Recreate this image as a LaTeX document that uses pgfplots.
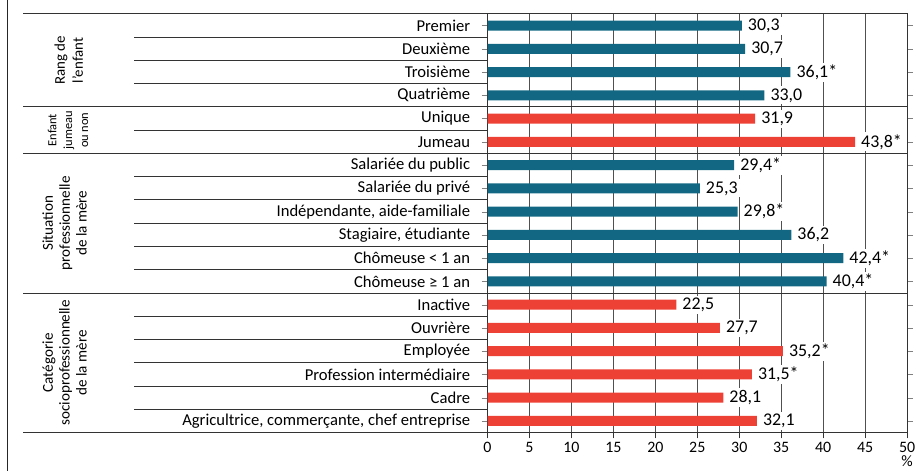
\documentclass[border=0pt]{standalone}
\usepackage{pgfplots}
\pgfplotsset{compat=1.18}
\usepackage{pgfplotstable}
\usepackage{fontspec}
\setmainfont{Carlito}
\definecolor{barblue}{RGB}{18,104,130}
\definecolor{barred}{RGB}{238,65,54}
\definecolor{gridgray}{RGB}{80,80,80}

% row  value  label
\pgfplotstableread{
row val lab
1 30.3 30,3
2 30.7 30,7
3 36.1 36,1*
4 33.0 33,0
7 29.4 29,4*
8 25.3 25,3
9 29.8 29,8*
10 36.2 36,2
11 42.4 42,4*
12 40.4 40,4*
}\bluedata

\pgfplotstableread{
row val lab
5 31.9 31,9
6 43.8 43,8*
13 22.5 22,5
14 27.7 27,7
15 35.2 35,2*
16 31.5 31,5*
17 28.1 28,1
18 32.1 32,1
}\reddata

\newcommand{\lbl}{\fontsize{16.7}{19}\selectfont}
\newcommand{\tlbl}{\fontsize{16}{19}\selectfont}
\newcommand{\vlbl}{\fontsize{18}{20}\selectfont}

\begin{document}
\begin{tikzpicture}
\begin{axis}[
    xbar, bar width=10pt, bar shift=0pt,
    scale only axis, width=422pt, height=421pt,
    xmin=0, xmax=50, ymin=0.5, ymax=18.5, y dir=reverse,
    xtick={0,5,...,50}, ytick={1,...,18},
    yticklabels={Premier, Deuxième, Troisième, Quatrième, Unique, Jumeau,
      Salariée du public, Salariée du privé, {Indépendante, aide-familiale},
      {Stagiaire, étudiante}, Chômeuse < 1 an, Chômeuse ≥ 1 an,
      Inactive, Ouvrière, Employée, Profession intermédiaire, Cadre,
      {Agricultrice, commerçante, chef entreprise}},
    xmajorgrids=true,
    major grid style={draw=gridgray, line width=1pt},
    xtick pos=bottom, xtick align=outside,
    major tick length=6pt,
    xtick style={draw=black!80, line width=1pt},
    axis line style={draw=black!80, line width=1pt},
    xticklabel style={font=\tlbl},
    yticklabel style={font=\lbl, xshift=-8pt},
    /pgf/number format/assume math mode=true,
    clip=false,
    point meta=explicit symbolic,
    nodes near coords,
    nodes near coords style={anchor=west, fill=white, inner sep=2pt, xshift=4pt, font=\vlbl},
  ]
  \addplot[fill=barblue, draw=none] table[x=val, y=row, meta=lab] {\bluedata};
  \addplot[fill=barred, draw=none] table[x=val, y=row, meta=lab] {\reddata};

  % group separators
  \pgfplotsinvokeforeach{0.5,4.5,6.5,12.5,18.5}{
    \draw[black!80, line width=1pt] (axis cs:-55.3,#1) -- (axis cs:50,#1);
  }
  % row separators in the label area
  \pgfplotsinvokeforeach{1.5,2.5,3.5,5.5,7.5,8.5,9.5,10.5,11.5,13.5,14.5,15.5,16.5,17.5}{
    \draw[black!80, line width=1pt] (axis cs:-42.1,#1) -- (axis cs:0,#1);
  }
  \draw[black!85, line width=1.3pt] (axis cs:-57.2,-0.1) -- (axis cs:-57.2,20.16);

  \node[rotate=90, align=center, font=\fontsize{15}{18}\selectfont] at (axis cs:-49.9,2.5) {Rang de\\l'enfant};
  \node[rotate=90, align=center, font=\fontsize{12.5}{16}\selectfont] at (axis cs:-50,5.5) {Enfant\\jumeau\\ou non};
  \node[rotate=90, align=center, font=\fontsize{15.2}{17}\selectfont] at (axis cs:-50.4,9.5) {Situation\\professionnelle\\de la mère};
  \node[rotate=90, align=center, font=\fontsize{15.2}{17}\selectfont] at (axis cs:-50.4,15.5) {Catégorie\\socioprofessionnelle\\de la mère};
  \node[font=\tlbl] at (axis cs:50,19.75) {\%};

  \coordinate (tl) at (axis cs:-58.1,-0.1);
  \coordinate (br) at (axis cs:51.3,20.2);
\end{axis}
\pgfresetboundingbox
\path (tl) rectangle (br);
\end{tikzpicture}
\end{document}
